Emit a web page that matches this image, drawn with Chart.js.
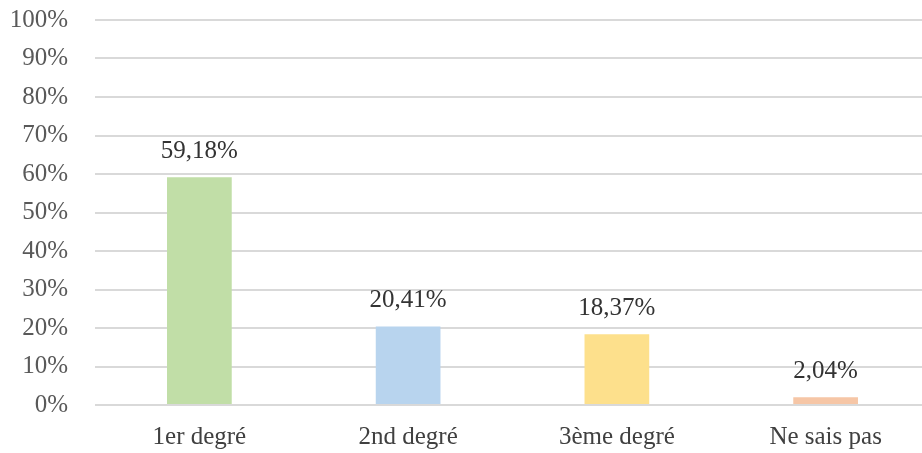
<!DOCTYPE html>
<html>
<head>
<meta charset="utf-8">
<script src="https://cdn.jsdelivr.net/npm/chart.js@4/dist/chart.umd.min.js"></script>
<style>
  html, body { margin: 0; padding: 0; background: #fff; overflow: hidden; }
  #wrap { width: 930px; height: 453px; }
</style>
</head>
<body>
<div id="wrap"><canvas id="chart"></canvas></div>
<script>
// données du graphique
var categories = ['1er degré', '2nd degré', '3ème degré', 'Ne sais pas'];
var values = [59.18, 20.41, 18.37, 2.04];
var barColors = ['#c1dea7', '#b8d4ee', '#fde08c', '#f6c6a6'];

function fmt(v) {
    return v.toFixed(2).replace('.', ',') + '%';
}

// plugin maison pour afficher les valeurs au-dessus des barres
var valueLabels = {
    id: 'valueLabels',
    afterDatasetsDraw: function(chart) {
        var ctx = chart.ctx;
        var meta = chart.getDatasetMeta(0);
        ctx.save();
        ctx.font = '25px "Liberation Serif", "Times New Roman", serif';
        ctx.fillStyle = '#333333';
        ctx.textAlign = 'center';
        ctx.textBaseline = 'alphabetic';
        meta.data.forEach(function(bar, i) {
            ctx.fillText(fmt(values[i]), bar.x, bar.y - 19);
        });
        ctx.restore();
    }
};

Chart.defaults.font.family = '"Liberation Serif", "Times New Roman", serif';
Chart.defaults.font.size = 25;
Chart.defaults.color = '#595959';

new Chart(document.getElementById('chart').getContext('2d'), {
    type: 'bar',
    data: {
        labels: categories,
        datasets: [{
            data: values,
            backgroundColor: barColors,
            borderWidth: 0,
            barPercentage: 1,
            categoryPercentage: 0.31
        }]
    },
    options: {
        responsive: true,
        maintainAspectRatio: false,
        animation: false,
        layout: { padding: { top: 20, right: 0, left: 0, bottom: 0 } },
        plugins: {
            legend: { display: false },
            tooltip: { enabled: false }
        },
        scales: {
            x: {
                grid: { display: false, drawTicks: false },
                border: { display: false },
                ticks: { padding: 17, color: '#404040' },
                afterFit: function(scale) {
                    scale.height = 48;
                    scale.paddingLeft = 0;
                    scale.paddingRight = 0;
                }
            },
            y: {
                min: 0,
                max: 100,
                grid: { color: '#d9d9d9', lineWidth: 2, drawTicks: false },
                border: { display: false },
                ticks: {
                    stepSize: 10,
                    padding: 27,
                    callback: function(v) { return v + '%'; }
                },
                afterFit: function(scale) {
                    scale.width = 95;
                    scale.paddingTop = 0;
                    scale.paddingBottom = 0;
                }
            }
        }
    },
    plugins: [valueLabels]
});
</script>
</body>
</html>
